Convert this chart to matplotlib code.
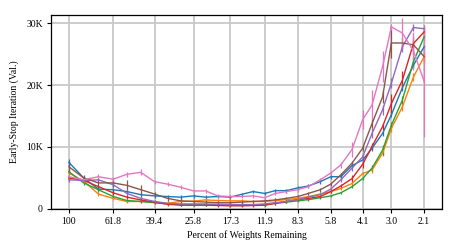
import numpy as np
import matplotlib
matplotlib.use('Agg')
import matplotlib.pyplot as plt
from matplotlib.ticker import NullLocator

# percent of weights remaining at each pruning round
percent = [100, 85.2, 72.6, 61.8, 53.2, 45.8, 39.4, 34.2, 29.7, 25.8, 22.6,
           19.8, 17.3, 15.3, 13.5, 11.9, 10.6, 9.4, 8.3, 7.4, 6.5,
           5.8, 5.2, 4.6, 4.1, 3.7, 3.3, 3.0, 2.66, 2.36, 2.1]
tick_labels = ['100', '61.8', '39.4', '25.8', '17.3', '11.9', '8.3', '5.8', '4.1', '3.0', '2.1']

# early-stop iteration (thousands), one list per run
blue = [7.5, 5.0, 3.2, 3.1, 2.8, 2.3, 2.1, 2.0, 1.9, 2.1, 1.9, 2.0, 1.9, 2.35, 2.8, 2.5,
        2.95, 2.95, 3.4, 3.7, 4.4, 5.2, 5.2, 7.0, 7.9, 9.8, 12.2, 15.2, 19.6, 23.2, 26.2]
orange = [5.8, 4.5, 2.4, 1.7, 1.2, 1.2, 1.1, 0.9, 1.2, 1.25, 1.45, 1.35, 1.3, 1.3, 1.2, 1.2,
          1.35, 1.5, 1.7, 2.0, 2.4, 2.8, 3.3, 4.1, 5.7, 6.3, 9.0, 13.0, 16.5, 21.3, 24.6]
green = [6.0, 4.2, 3.1, 2.0, 1.35, 1.2, 1.0, 0.8, 0.7, 0.7, 0.7, 0.65, 0.6, 0.6, 0.6, 0.7,
         0.9, 1.1, 1.3, 1.5, 1.8, 2.1, 2.6, 3.6, 4.9, 6.6, 9.5, 13.5, 17.6, 23.8, 27.8]
red = [5.0, 4.6, 3.6, 2.6, 1.9, 1.45, 1.1, 0.75, 0.6, 0.6, 0.6, 0.55, 0.5, 0.5, 0.55, 0.6,
       0.9, 1.2, 1.5, 1.7, 2.0, 2.8, 3.7, 4.9, 7.2, 10.1, 13.3, 17.0, 20.8, 26.7, 28.6]
purple = [4.7, 4.6, 4.7, 3.9, 2.5, 1.7, 1.2, 0.9, 0.8, 0.8, 0.8, 0.75, 0.7, 0.7, 0.7, 0.8,
          1.0, 1.2, 1.5, 1.9, 2.3, 3.2, 4.7, 6.6, 8.4, 12.2, 16.0, 20.3, 26.2, 29.3, 29.1]
brown = [6.8, 5.0, 4.2, 4.2, 3.8, 3.1, 2.4, 1.7, 1.3, 1.2, 1.1, 1.0, 1.0, 1.1, 1.2, 1.3,
         1.45, 1.7, 2.0, 2.5, 3.1, 4.0, 5.5, 7.4, 9.8, 13.8, 18.1, 26.8, 26.8, 26.5, 24.6]
pink = [5.2, 4.7, 5.2, 4.8, 5.6, 5.9, 4.4, 4.0, 3.5, 2.9, 2.9, 2.1, 2.0, 2.0, 2.1, 1.8,
        2.5, 2.8, 3.1, 3.6, 4.7, 5.8, 7.1, 9.6, 14.4, 16.8, 23.0, 29.4, 28.4, 25.5, 20.6]

# error bar half-heights (thousands)
blue_err = [0.6, 0.3, 0.3, 0.3, 0.3, 0.3, 0.3, 0.3, 0.3, 0.3, 0.3, 0.3, 0.3, 0.3, 0.3, 0.3,
            0.3, 0.3, 0.3, 0.3, 0.3, 0.3, 0.3, 0.3, 0.3, 0.4, 0.4, 0.4, 0.5, 0.5, 0.6]
orange_err = [0.4, 0.3, 0.3, 0.3, 0.3, 0.3, 0.3, 0.3, 0.3, 0.3, 0.3, 0.3, 0.3, 0.3, 0.3, 0.3,
              0.4, 0.3, 0.4, 0.3, 0.3, 0.3, 0.3, 0.3, 0.3, 0.5, 0.5, 0.6, 0.7, 0.6, 0.8]
green_err = [0.4, 0.4, 0.3, 0.3, 0.3, 0.2, 0.2, 0.2, 0.2, 0.2, 0.2, 0.2, 0.2, 0.2, 0.2, 0.2,
             0.2, 0.2, 0.2, 0.2, 0.2, 0.2, 0.2, 0.3, 0.3, 0.5, 0.8, 0.6, 0.6, 0.8, 0.8]
red_err = [0.4, 0.3, 0.3, 0.3, 0.3, 0.3, 0.2, 0.2, 0.2, 0.2, 0.2, 0.2, 0.2, 0.2, 0.2, 0.2,
           0.2, 0.2, 0.2, 0.2, 0.2, 0.2, 0.3, 0.5, 0.6, 0.5, 0.6, 1.5, 1.5, 0.8, 0.8]
purple_err = [0.4, 0.3, 0.5, 0.4, 0.4, 0.4, 0.3, 0.2, 0.2, 0.2, 0.2, 0.2, 0.2, 0.2, 0.2, 0.2,
              0.2, 0.2, 0.2, 0.2, 0.3, 0.3, 0.3, 0.4, 0.6, 0.8, 0.8, 0.8, 0.8, 0.6, 0.6]
brown_err = [1.0, 0.4, 0.5, 0.6, 0.8, 0.8, 0.4, 0.4, 0.4, 0.3, 0.3, 0.3, 0.3, 0.3, 0.3, 0.3,
             0.3, 0.3, 0.3, 0.3, 0.3, 0.3, 0.3, 0.4, 0.5, 0.8, 1.0, 2.4, 1.0, 1.5, 1.2]
pink_err = [0.4, 0.3, 0.4, 0.3, 0.4, 0.5, 0.3, 0.3, 0.3, 0.3, 0.3, 0.3, 0.3, 0.3, 0.3, 0.3,
            0.3, 0.3, 0.3, 0.3, 0.3, 0.3, 0.5, 1.2, 1.5, 2.4, 2.5, 0.5, 2.5, 3.0, 9.0]

series = [(blue, blue_err, 'tab:blue'), (orange, orange_err, 'tab:orange'),
          (green, green_err, 'tab:green'), (red, red_err, 'tab:red'),
          (purple, purple_err, 'tab:purple'), (brown, brown_err, 'tab:brown'),
          (pink, pink_err, 'tab:pink')]

plt.rcParams['font.family'] = ['Liberation Serif', 'DejaVu Serif']
plt.rcParams['font.size'] = 7

fig = plt.figure(figsize=(4.57, 2.52), dpi=100)
ax = fig.add_axes([0.112, 0.171, 0.855, 0.769])

x = np.array(percent)
for vals, errs, col in series:
    ax.errorbar(x, np.array(vals) * 1000, yerr=np.array(errs) * 1000,
                color=col, lw=1.0, elinewidth=0.9, capsize=0)

ax.set_xscale('log')
ax.set_xticks([percent[i] for i in range(0, len(percent), 3)])
ax.set_xticklabels(tick_labels)
ax.xaxis.set_minor_locator(NullLocator())
ax.invert_xaxis()

ax.set_ylim(0, 31300)
ax.set_yticks([0, 10000, 20000, 30000])
ax.set_yticklabels(['0', '10K', '20K', '30K'])

ax.grid(True, color='#c8c8c8', lw=1.3)
ax.set_axisbelow(True)
ax.tick_params(length=3, width=0.8, pad=3)
for s in ax.spines.values():
    s.set_linewidth(0.9)

ax.set_xlabel('Percent of Weights Remaining', labelpad=3)
ax.set_ylabel('Early-Stop Iteration (Val.)', labelpad=5)

fig.savefig('out.png', dpi=100)
